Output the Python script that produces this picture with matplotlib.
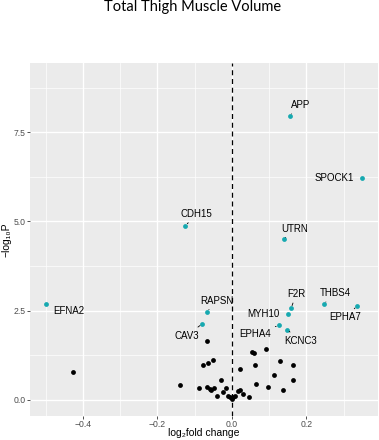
import numpy as np
import matplotlib
matplotlib.use('Agg')
import matplotlib.pyplot as plt

plt.rcParams['font.family'] = ['Liberation Sans', 'DejaVu Sans']

# significant genes (cyan, labelled)
genes = ['APP', 'SPOCK1', 'CDH15', 'UTRN', 'EFNA2', 'RAPSN', 'CAV3',
         'F2R', 'MYH10', 'THBS4', 'EPHA7', 'EPHA4', 'KCNC3']
sig_fc = [0.155, 0.350, -0.125, 0.139, -0.500, -0.067, -0.080,
          0.159, 0.150, 0.247, 0.336, 0.126, 0.148]
sig_p = [7.96, 6.21, 4.88, 4.50, 2.68, 2.47, 2.13,
         2.57, 2.42, 2.69, 2.63, 2.09, 1.97]
# where the repelled labels ended up
lab_fc = [0.185, 0.276, -0.095, 0.169, -0.437, -0.040, -0.122,
          0.173, 0.085, 0.277, 0.305, 0.063, 0.185]
lab_p = [8.26, 6.21, 5.21, 4.80, 2.50, 2.78, 1.80,
         2.97, 2.40, 2.99, 2.31, 1.85, 1.66]
no_segment = ['SPOCK1', 'EFNA2', 'MYH10']

# the rest (black)
ns_fc = [-0.426, -0.140, -0.088, -0.078, -0.068, -0.067, -0.065, -0.059, -0.057,
         -0.050, -0.048, -0.040, -0.029, -0.023, -0.015, -0.010, -0.005, 0.001,
         0.004, 0.007, 0.017, 0.021, 0.021, 0.031, 0.046, 0.054, 0.058, 0.062,
         0.066, 0.091, 0.096, 0.114, 0.130, 0.138, 0.165, 0.165]
ns_p = [0.78, 0.41, 0.34, 0.97, 1.64, 0.36, 1.04, 0.31, 0.27,
        1.12, 0.33, 0.11, 0.55, 0.22, 0.34, 0.12, 0.08, 0.03,
        0.07, 0.10, 0.25, 0.29, 0.86, 0.16, 0.08, 1.34, 1.32, 0.99,
        0.46, 1.42, 0.37, 0.69, 1.10, 0.27, 0.99, 0.57]

fig = plt.figure(figsize=(3.79, 4.40), dpi=100)
ax = fig.add_axes([30/379, 24/440, 348/379, 353/440])

ax.set_facecolor('#EBEBEB')
for s in ax.spines.values():
    s.set_visible(False)

ax.set_xticks([-0.4, -0.2, 0.0, 0.2])
ax.set_xticks([-0.5, -0.3, -0.1, 0.1, 0.3], minor=True)
ax.set_yticks([0.0, 2.5, 5.0, 7.5])
ax.set_yticks([1.25, 3.75, 6.25, 8.75], minor=True)
ax.grid(which='major', color='white', linewidth=1.0)
ax.grid(which='minor', color='white', linewidth=0.5)
ax.set_axisbelow(True)
ax.tick_params(which='major', length=2.2, width=0.6, color='#333333',
               labelsize=6.2, labelcolor='#4D4D4D', pad=1.0)
ax.tick_params(which='minor', length=0)
ax.set_xticklabels(['\u22120.4', '\u22120.2', '0.0', '0.2'])

ax.scatter(ns_fc, ns_p, s=12, color='black', linewidths=0, zorder=3)
ax.scatter(sig_fc, sig_p, s=12, color='#17A9B0', linewidths=0, zorder=3)
ax.axvline(0, color='black', linestyle=(0, (4, 3)), linewidth=0.9, zorder=2)

for g, x, y, lx, ly in zip(genes, sig_fc, sig_p, lab_fc, lab_p):
    if g in no_segment:
        ax.text(lx, ly, g, fontsize=7, ha='center', va='center', zorder=4)
    else:
        ax.annotate(g, xy=(x, y), xytext=(lx, ly), fontsize=7,
                    ha='center', va='center', zorder=4,
                    arrowprops=dict(arrowstyle='-', color='black', lw=0.6,
                                    shrinkA=1, shrinkB=2))

ax.set_xlim(-0.5425, 0.3925)
ax.set_ylim(-0.45, 9.44)

# axis titles placed by hand so they stay inside the small canvas
fig.text(204/379, 1 - 433/440, 'log\u2082fold change', fontsize=7.5,
         ha='center', va='center')
fig.text(7/379, 1 - 240/440, '\u2212log\u2081\u2080P', fontsize=7.5,
         ha='center', va='center', rotation=90)

fig.text(0.507, 0.975, 'Total Thigh Muscle Volume', ha='center', va='baseline',
         fontsize=10.5, family=['Lato', 'DejaVu Sans'])

plt.savefig('out.png', dpi=100)
